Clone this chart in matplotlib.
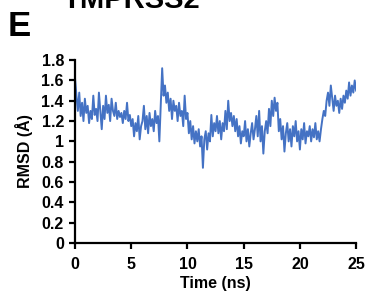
'''
RMSD trace of TMPRSS2 over a 25 ns run (panel E)
'''

from matplotlib import pyplot as plt
import numpy as np

plt.rcParams['font.family'] = ['Liberation Sans', 'DejaVu Sans']
plt.rcParams['font.weight'] = 'bold'

# RMSD values, one every 0.125 ns
rmsd = [
    1.62, 1.45, 1.30, 1.48, 1.25, 1.38, 1.20, 1.42,
    1.28, 1.35, 1.18, 1.30, 1.22, 1.45, 1.26, 1.32,
    1.20, 1.48, 1.30, 1.12, 1.35, 1.22, 1.45, 1.28,
    1.36, 1.20, 1.42, 1.30, 1.25, 1.38, 1.22, 1.30,
    1.24, 1.28, 1.18, 1.30, 1.22, 1.38, 1.20, 1.26,
    1.15, 1.22, 1.05, 1.18, 1.10, 1.25, 1.02, 1.15,
    1.20, 1.35, 1.12, 1.25, 1.08, 1.28, 1.15, 1.22,
    1.10, 1.30, 1.18, 1.25, 1.00, 1.35, 1.72, 1.45,
    1.55, 1.38, 1.48, 1.30, 1.42, 1.22, 1.40, 1.30,
    1.35, 1.20, 1.38, 1.25, 1.30, 1.15, 1.45, 1.22,
    1.28, 1.08, 1.20, 1.02, 1.15, 0.98, 1.10, 1.00,
    1.12, 0.95, 1.05, 0.74, 1.02, 1.10, 0.92, 1.08,
    1.00, 1.26, 1.05, 1.18, 1.10, 1.25, 1.08, 1.20,
    1.02, 1.18, 1.10, 1.30, 1.12, 1.40, 1.20, 1.28,
    1.15, 1.25, 1.10, 1.22, 1.05, 1.15, 0.98, 1.10,
    1.05, 1.20, 1.00, 1.12, 0.95, 1.08, 1.18, 1.02,
    1.12, 1.25, 1.05, 1.30, 1.00, 1.15, 0.88, 1.10,
    1.20, 1.08, 1.32, 1.15, 1.40, 1.25, 1.43, 1.30,
    1.38, 1.10, 1.22, 1.02, 1.15, 0.90, 1.08, 1.18,
    1.00, 1.12, 0.95, 1.15, 1.05, 1.20, 1.00, 1.10,
    0.92, 1.12, 1.02, 1.18, 0.98, 1.10, 1.05, 1.15,
    1.00, 1.12, 1.04, 1.18, 1.02, 1.10, 1.00, 1.12,
    1.22, 1.30, 1.25, 1.40, 1.48, 1.35, 1.55, 1.42,
    1.30, 1.45, 1.35, 1.40, 1.28, 1.42, 1.32, 1.45,
    1.38, 1.50, 1.42, 1.58, 1.45, 1.55, 1.48, 1.60,
    1.50,
]
time_ns = np.arange(len(rmsd)) * 0.125

x_ticks = [0, 5, 10, 15, 20, 25]
y_ticks = [0, 0.2, 0.4, 0.6, 0.8, 1, 1.2, 1.4, 1.6, 1.8]
y_labels = ['0', '0.2', '0.4', '0.6', '0.8', '1', '1.2', '1.4', '1.6', '1.8']

fig = plt.figure(figsize=(3.66, 2.96), dpi=100)
ax = fig.add_axes([0.205, 0.179, 0.768, 0.618])

ax.plot(time_ns, rmsd, color='#4472C4', linewidth=1.4)

ax.set_xlim(0, 25)
ax.set_ylim(0, 1.8)
ax.set_xticks(x_ticks)
ax.set_yticks(y_ticks)
ax.set_yticklabels(y_labels)
ax.tick_params(labelsize=11.5, width=1.6, length=4)
ax.tick_params(axis='x', pad=6)
ax.tick_params(axis='y', pad=4)

for s in ['top', 'right']:
    ax.spines[s].set_visible(False)
for s in ['left', 'bottom']:
    ax.spines[s].set_linewidth(1.6)

ax.set_xlabel('Time (ns)', fontsize=11.5, fontweight='bold', labelpad=3)
ax.set_ylabel('RMSD (Å)', fontsize=11.5, fontweight='bold', labelpad=6)

fig.text(0.359, 0.973, 'TMPRSS2', fontsize=21, fontweight='bold',
         ha='center', va='baseline')
fig.text(0.022, 0.878, 'E', fontsize=25, fontweight='bold',
         ha='left', va='baseline')

fig.savefig('out.png', dpi=100)
